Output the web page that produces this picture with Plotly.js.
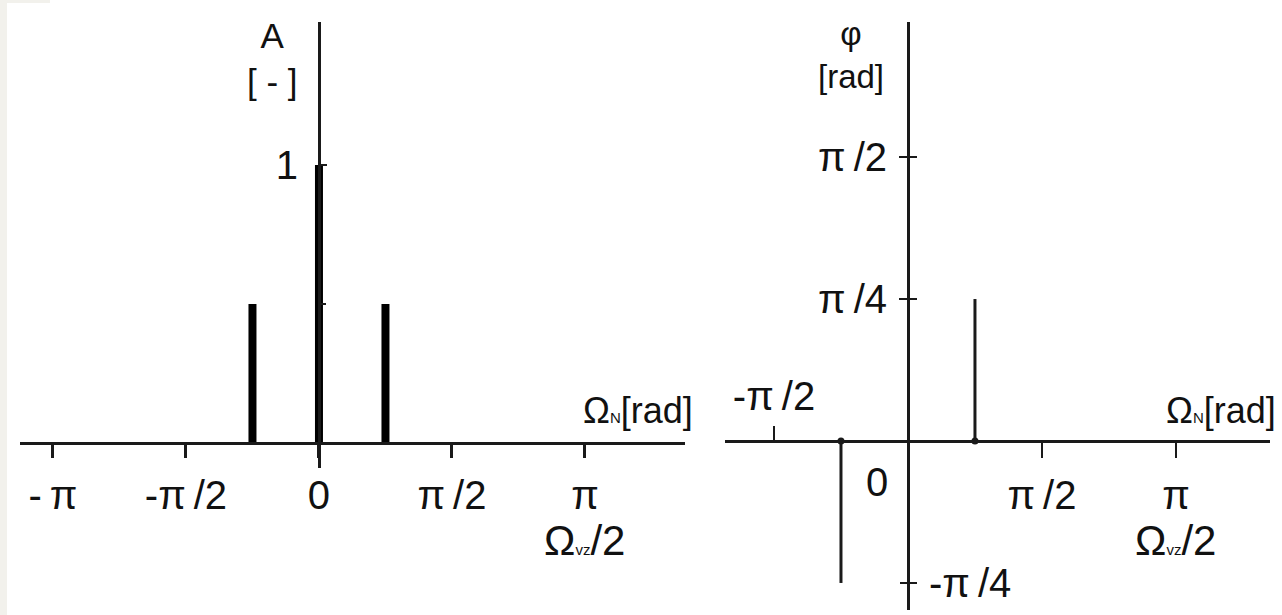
<!DOCTYPE html>
<html>
<head>
<meta charset="utf-8">
<script src="https://cdn.plot.ly/plotly-3.0.1.min.js"></script>
<style>
  html, body { margin: 0; padding: 0; background: #ffffff; }
  #chart { width: 1282px; height: 615px; }
</style>
</head>
<body>
<div id="chart"></div>
<script>
const PI = Math.PI;

// Amplitude spectrum: normalised frequency [rad] and amplitude [-]
const ampFreq = [-PI / 4, 0, PI / 4];
const ampValue = [0.5, 1, 0.5];

// Phase spectrum: normalised frequency [rad] and phase [rad]
const phaseFreq = [-PI / 4, PI / 4];
const phaseValue = [-PI / 4, PI / 4];

// Frequency axis ticks
const ampFreqTicks = [-PI, -PI / 2, 0, PI / 2, PI];
const ampFreqLabels = ['-\u2009π', '-π\u2009/2', '0', 'π\u2009/2', 'π'];
const phaseFreqTicksBelow = [PI / 2, PI];
const phaseFreqLabelsBelow = ['π\u2009/2', 'π'];
const phaseFreqTicksAbove = [-PI / 2];
const phaseFreqLabelsAbove = ['-π\u2009/2'];

// Value axis ticks (labelled and plain tick marks)
const ampTicks = [1];
const ampTickLabels = ['1'];
const ampPlainTicks = [0.5];
const phaseTicksLeft = [PI / 2, PI / 4];
const phaseTickLabelsLeft = ['π\u2009/2', 'π\u2009/4'];
const phaseTicksRight = [-PI / 4];
const phaseTickLabelsRight = ['-π\u2009/4'];
const phasePlainTicksRight = [PI / 2, PI / 4];
const phasePlainTicksLeft = [-PI / 4];

const FONT = 'Liberation Sans, Arial, sans-serif';
const INK = '#1a1a1a';

// vertical stems from the zero line up/down to each value
function stems(xs, ys) {
  const x = [], y = [];
  xs.forEach((v, i) => { x.push(v, v, null); y.push(0, ys[i], null); });
  return { x, y };
}

const ampStems = stems(ampFreq, ampValue);
const phaseStems = stems(phaseFreq, phaseValue);

// empty trace so that an overlay axis gets drawn
function holder(xa, ya) {
  return { type: 'scatter', mode: 'lines', x: [null], y: [null], xaxis: xa, yaxis: ya,
           hoverinfo: 'skip', showlegend: false };
}

const traces = [
  {
    type: 'scatter', mode: 'lines', x: ampStems.x, y: ampStems.y,
    xaxis: 'x', yaxis: 'y',
    line: { color: '#000', width: 8 }, hoverinfo: 'skip', showlegend: false
  },
  {
    type: 'scatter', mode: 'lines', x: phaseStems.x, y: phaseStems.y,
    xaxis: 'x2', yaxis: 'y2',
    line: { color: INK, width: 3 }, hoverinfo: 'skip', showlegend: false
  },
  {
    type: 'scatter', mode: 'markers', x: phaseFreq, y: phaseFreq.map(() => 0),
    xaxis: 'x3', yaxis: 'y3',
    marker: { color: INK, size: 7 }, hoverinfo: 'skip', showlegend: false
  },
  holder('x', 'y4'),
  holder('x2', 'y5'),
  holder('x2', 'y6')
];

// left panel geometry
const ampXRange = [-3.531, 4.323];
const ampYRange = [-0.09, 1.514];
// right panel geometry
const phXRange = [-2.145, 4.244];
const phYRange = [-0.935, 2.318];

const ampXDomain = [20 / 1282, 685 / 1282];
const ampYDomain = [1 - 468 / 615, 1 - 22 / 615];
const phXDomain = [725 / 1282, 1270 / 1282];
const phYDomain = [1 - 610 / 615, 1 - 22 / 615];
const ampYPos = 319 / 1282;
const phYPos = 908 / 1282;

const axisCommon = {
  showgrid: false, zeroline: false, showline: true,
  linecolor: INK, tickcolor: INK, fixedrange: true,
  tickmode: 'array', tickfont: { family: FONT, size: 40, color: '#111' }
};

function ax(opts) { return Object.assign({}, axisCommon, opts); }

// small index letters sitting on the baseline
const idx = s => '<span style="font-size:15px">' + s + '</span>';

const layout = {
  width: 1282, height: 615,
  margin: { l: 0, r: 0, t: 0, b: 0 },
  paper_bgcolor: '#ffffff', plot_bgcolor: 'rgba(0,0,0,0)',
  showlegend: false,
  font: { family: FONT, color: '#111' },

  xaxis: ax({
    domain: ampXDomain, range: ampXRange,
    anchor: 'free', position: 1 - 443 / 615,
    linewidth: 3, ticks: 'outside', ticklen: 13, tickwidth: 3,
    tickvals: ampFreqTicks, ticktext: ampFreqLabels, ticklabelstandoff: 3
  }),
  yaxis: ax({
    domain: ampYDomain, range: ampYRange,
    anchor: 'free', position: ampYPos, side: 'left',
    linewidth: 2.5, ticks: 'inside', ticklen: 6, tickwidth: 2,
    tickvals: ampTicks, ticktext: ampTickLabels, ticklabelstandoff: 12
  }),
  yaxis4: ax({
    domain: ampYDomain, range: ampYRange, overlaying: 'y',
    anchor: 'free', position: ampYPos, side: 'left', showline: false,
    ticks: 'inside', ticklen: 6, tickwidth: 2,
    tickvals: ampPlainTicks, showticklabels: false
  }),

  xaxis2: ax({
    domain: phXDomain, range: phXRange,
    anchor: 'free', position: 1 - 441 / 615,
    linewidth: 2.5, ticks: 'outside', ticklen: 15, tickwidth: 2.5,
    tickvals: phaseFreqTicksBelow, ticktext: phaseFreqLabelsBelow, ticklabelstandoff: 3
  }),
  xaxis3: ax({
    domain: phXDomain, range: phXRange,
    anchor: 'free', position: 1 - 441 / 615, overlaying: 'x2', side: 'top',
    showline: false, ticks: 'outside', ticklen: 15, tickwidth: 2.5,
    tickvals: phaseFreqTicksAbove, ticktext: phaseFreqLabelsAbove, ticklabelstandoff: 0
  }),
  yaxis2: ax({
    domain: phYDomain, range: phYRange,
    anchor: 'free', position: phYPos, side: 'left',
    linewidth: 2.5, ticks: 'outside', ticklen: 8, tickwidth: 2,
    tickvals: phaseTicksLeft, ticktext: phaseTickLabelsLeft, ticklabelstandoff: 4
  }),
  yaxis3: ax({
    domain: phYDomain, range: phYRange,
    anchor: 'free', position: phYPos, side: 'right', overlaying: 'y2',
    showline: false, ticks: 'outside', ticklen: 8, tickwidth: 2,
    tickvals: phaseTicksRight, ticktext: phaseTickLabelsRight, ticklabelstandoff: 4
  }),
  yaxis5: ax({
    domain: phYDomain, range: phYRange,
    anchor: 'free', position: phYPos, side: 'right', overlaying: 'y2',
    showline: false, ticks: 'outside', ticklen: 8, tickwidth: 2,
    tickvals: phasePlainTicksRight, showticklabels: false
  }),
  yaxis6: ax({
    domain: phYDomain, range: phYRange,
    anchor: 'free', position: phYPos, side: 'left', overlaying: 'y2',
    showline: false, ticks: 'outside', ticklen: 8, tickwidth: 2,
    tickvals: phasePlainTicksLeft, showticklabels: false
  }),

  annotations: [
    { xref: 'paper', yref: 'paper', x: 272 / 1282, y: 1 - 58 / 615,
      text: 'A<br>[ - ]', showarrow: false, xanchor: 'center', yanchor: 'middle',
      font: { family: FONT, size: 35, color: '#111' } },
    { xref: 'x', yref: 'paper', x: ampXRange[1], y: 1 - 410 / 615, xshift: 10,
      text: 'Ω' + idx('N') + '[rad]', showarrow: false, xanchor: 'right', yanchor: 'middle',
      font: { family: FONT, size: 36, color: '#111' } },
    { xref: 'x', yref: 'paper', x: PI, y: 1 - 540 / 615,
      text: 'Ω' + idx('vz') + '/2', showarrow: false, xanchor: 'center', yanchor: 'middle',
      font: { family: FONT, size: 42, color: '#111' } },

    { xref: 'paper', yref: 'paper', x: 851 / 1282, y: 1 - 55 / 615,
      text: 'φ<br>[rad]', showarrow: false, xanchor: 'center', yanchor: 'middle',
      font: { family: FONT, size: 33, color: '#111' } },
    { xref: 'x2', yref: 'paper', x: phXRange[1], y: 1 - 410 / 615, xshift: 8,
      text: 'Ω' + idx('N') + '[rad]', showarrow: false, xanchor: 'right', yanchor: 'middle',
      font: { family: FONT, size: 36, color: '#111' } },
    { xref: 'x2', yref: 'paper', x: PI, y: 1 - 540 / 615,
      text: 'Ω' + idx('vz') + '/2', showarrow: false, xanchor: 'center', yanchor: 'middle',
      font: { family: FONT, size: 42, color: '#111' } },
    { xref: 'x2', yref: 'paper', x: 0, y: 1 - 482 / 615, xshift: -18,
      text: '0', showarrow: false, xanchor: 'right', yanchor: 'middle',
      font: { family: FONT, size: 40, color: '#111' } }
  ],

  shapes: [
    { type: 'rect', xref: 'paper', yref: 'paper', x0: 0, x1: 7 / 1282, y0: 0, y1: 1,
      fillcolor: '#f2f1ec', line: { width: 0 }, layer: 'below' },
    { type: 'rect', xref: 'paper', yref: 'paper', x0: 0, x1: 50 / 1282, y0: 1 - 3 / 615, y1: 1,
      fillcolor: '#f2f1ec', line: { width: 0 }, layer: 'below' }
  ]
};

Plotly.newPlot('chart', traces, layout, { staticPlot: true, displayModeBar: false });
</script>
</body>
</html>
